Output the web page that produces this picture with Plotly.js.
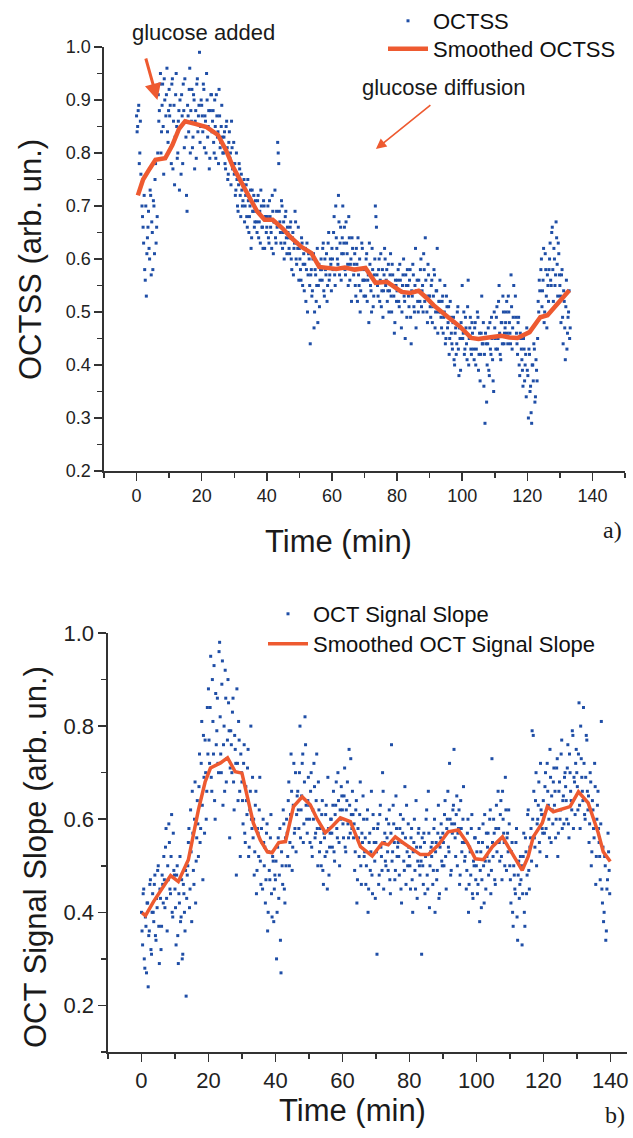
<!DOCTYPE html>
<html>
<head>
<meta charset="utf-8">
<script src="https://cdn.plot.ly/plotly-3.0.1.min.js"></script>
<style>html,body{margin:0;padding:0;background:#fff;}#chart{width:633px;height:1138px;}</style>
</head>
<body>
<div id="chart"></div>
<script>
// ---------- Panel a: OCTSS, two interleaved sample sets (every 1/3 min, offset 1/6 min) ----------
const octssValues = [
0.87,0.85,0.89,0.80,0.76,0.70,0.66,0.72,0.56,0.53,
0.64,0.69,0.60,0.72,0.67,0.58,0.70,0.75,0.63,0.68,
0.91,0.88,0.95,0.84,0.93,0.76,0.90,0.87,0.96,0.82,
0.92,0.89,0.78,0.94,0.86,0.74,0.91,0.85,0.80,0.88,
0.90,0.76,0.87,0.93,0.81,0.86,0.72,0.89,0.84,0.96,
0.88,0.92,0.83,0.90,0.86,0.79,0.94,0.87,0.99,0.85,
0.89,0.84,0.92,0.87,0.80,0.90,0.85,0.77,0.88,0.91,
0.86,0.82,0.90,0.79,0.87,0.84,0.92,0.81,0.85,0.83,
0.80,0.84,0.77,0.86,0.75,0.82,0.79,0.74,0.81,0.78,
0.76,0.72,0.80,0.70,0.74,0.77,0.68,0.73,0.71,0.75,
0.70,0.74,0.66,0.71,0.68,0.73,0.64,0.69,0.72,0.67,
0.69,0.65,0.72,0.67,0.63,0.70,0.66,0.71,0.62,0.68,
0.66,0.70,0.63,0.68,0.65,0.72,0.61,0.67,0.64,0.69,
0.82,0.78,0.67,0.63,0.70,0.65,0.60,0.68,0.64,0.66,
0.64,0.61,0.67,0.58,0.65,0.62,0.69,0.60,0.63,0.66,
0.62,0.58,0.64,0.55,0.61,0.59,0.52,0.63,0.57,0.60,
0.44,0.58,0.54,0.61,0.50,0.57,0.55,0.48,0.59,0.56,
0.60,0.56,0.63,0.53,0.58,0.61,0.55,0.65,0.57,0.59,
0.62,0.58,0.68,0.55,0.64,0.60,0.72,0.57,0.66,0.61,
0.70,0.63,0.58,0.67,0.61,0.55,0.64,0.59,0.52,0.62,
0.57,0.61,0.53,0.59,0.64,0.55,0.50,0.58,0.62,0.56,
0.58,0.53,0.61,0.56,0.48,0.59,0.54,0.62,0.51,0.57,
0.70,0.66,0.55,0.58,0.52,0.61,0.54,0.49,0.57,0.60,
0.56,0.52,0.59,0.54,0.61,0.50,0.57,0.53,0.48,0.55,
0.54,0.58,0.51,0.56,0.47,0.55,0.60,0.52,0.57,0.49,
0.55,0.51,0.58,0.44,0.53,0.57,0.50,0.62,0.54,0.52,
0.56,0.52,0.60,0.54,0.50,0.58,0.64,0.53,0.48,0.57,
0.53,0.49,0.56,0.51,0.58,0.47,0.54,0.62,0.50,0.52,
0.50,0.47,0.53,0.49,0.55,0.45,0.51,0.48,0.42,0.52,
0.46,0.43,0.49,0.40,0.47,0.44,0.51,0.38,0.45,0.48,
0.55,0.46,0.42,0.49,0.44,0.51,0.40,0.47,0.43,0.48,
0.45,0.41,0.48,0.43,0.50,0.39,0.46,0.42,0.53,0.44,
0.36,0.29,0.44,0.40,0.47,0.38,0.43,0.49,0.41,0.35,
0.47,0.43,0.51,0.45,0.55,0.42,0.48,0.44,0.50,0.46,
0.48,0.52,0.44,0.50,0.46,0.57,0.43,0.49,0.45,0.53,
0.46,0.42,0.49,0.38,0.45,0.41,0.36,0.43,0.40,0.34,
0.39,0.30,0.42,0.36,0.29,0.40,0.44,0.33,0.41,0.37,
0.52,0.56,0.49,0.60,0.54,0.62,0.50,0.58,0.47,0.55,
0.58,0.63,0.55,0.66,0.52,0.60,0.57,0.64,0.53,0.61,
0.55,0.48,0.58,0.44,0.52,0.41,0.56,0.46,0.50,0.45
];
const octssValuesOffset = [
0.84,0.88,0.78,0.86,0.74,0.68,0.63,0.58,0.70,0.61,
0.66,0.62,0.73,0.57,0.65,0.71,0.61,0.78,0.66,0.80,
0.86,0.93,0.80,0.89,0.85,0.94,0.79,0.91,0.84,0.88,
0.87,0.81,0.93,0.77,0.89,0.83,0.95,0.79,0.86,0.73,
0.85,0.91,0.78,0.88,0.94,0.83,0.69,0.87,0.92,0.80,
0.86,0.81,0.91,0.77,0.88,0.93,0.84,0.89,0.82,0.90,
0.87,0.93,0.81,0.86,0.95,0.83,0.88,0.79,0.91,0.84,
0.88,0.80,0.85,0.91,0.83,0.78,0.87,0.82,0.89,0.80,
0.83,0.78,0.85,0.81,0.76,0.84,0.80,0.86,0.77,0.82,
0.78,0.73,0.75,0.69,0.78,0.72,0.76,0.70,0.74,0.67,
0.72,0.68,0.75,0.65,0.70,0.62,0.73,0.69,0.66,0.71,
0.67,0.71,0.64,0.69,0.73,0.66,0.62,0.70,0.68,0.65,
0.68,0.64,0.71,0.66,0.62,0.69,0.67,0.73,0.63,0.66,
0.80,0.69,0.65,0.71,0.62,0.67,0.63,0.69,0.61,0.65,
0.62,0.66,0.60,0.64,0.57,0.63,0.67,0.59,0.62,0.56,
0.60,0.56,0.63,0.59,0.54,0.62,0.58,0.50,0.61,0.55,
0.57,0.53,0.60,0.47,0.58,0.52,0.62,0.55,0.51,0.58,
0.58,0.62,0.54,0.60,0.57,0.52,0.63,0.56,0.60,0.54,
0.60,0.65,0.57,0.70,0.62,0.59,0.67,0.63,0.56,0.64,
0.61,0.66,0.57,0.63,0.59,0.68,0.56,0.60,0.64,0.58,
0.59,0.55,0.62,0.52,0.57,0.60,0.54,0.63,0.56,0.53,
0.56,0.60,0.52,0.57,0.63,0.55,0.50,0.58,0.53,0.60,
0.68,0.57,0.53,0.60,0.56,0.51,0.58,0.54,0.62,0.55,
0.58,0.54,0.50,0.57,0.53,0.59,0.55,0.46,0.56,0.52,
0.56,0.52,0.59,0.54,0.50,0.57,0.53,0.45,0.55,0.58,
0.53,0.56,0.49,0.54,0.59,0.51,0.55,0.47,0.56,0.50,
0.54,0.58,0.51,0.55,0.61,0.52,0.56,0.50,0.59,0.53,
0.51,0.55,0.48,0.53,0.57,0.50,0.54,0.46,0.52,0.56,
0.49,0.52,0.46,0.50,0.44,0.53,0.47,0.51,0.45,0.49,
0.44,0.48,0.41,0.46,0.42,0.50,0.43,0.47,0.39,0.45,
0.45,0.50,0.43,0.47,0.41,0.56,0.45,0.49,0.42,0.46,
0.43,0.47,0.40,0.45,0.49,0.42,0.37,0.46,0.44,0.48,
0.42,0.46,0.33,0.44,0.39,0.48,0.42,0.45,0.37,0.50,
0.45,0.49,0.43,0.52,0.46,0.41,0.48,0.53,0.44,0.47,
0.50,0.46,0.53,0.48,0.44,0.51,0.47,0.55,0.45,0.49,
0.44,0.48,0.40,0.46,0.43,0.39,0.45,0.37,0.42,0.47,
0.38,0.43,0.35,0.31,0.40,0.37,0.43,0.34,0.39,0.45,
0.50,0.54,0.58,0.51,0.56,0.48,0.61,0.53,0.57,0.52,
0.60,0.56,0.65,0.58,0.62,0.55,0.67,0.59,0.63,0.57,
0.53,0.57,0.49,0.54,0.47,0.51,0.43,0.49,0.54,0.47
];
const smoothATime = [0.4,2,4,5.8,8.8,11,13,14.9,18,21.5,25,27.5,29.6,33.8,37,39.3,41.8,44.8,47.5,50.6,53.7,56.1,58,61.3,64,67,70.3,73.4,76.9,79,81.4,84.1,86.6,89,91.2,95.7,99.4,102.8,105,107,109.5,112,114.5,117,120.7,124,126.2,129.8,132.9];
const smoothAValues = [0.72,0.75,0.77,0.787,0.79,0.815,0.845,0.86,0.855,0.849,0.834,0.805,0.774,0.724,0.69,0.674,0.674,0.658,0.64,0.623,0.611,0.585,0.583,0.581,0.584,0.58,0.583,0.555,0.557,0.548,0.538,0.536,0.54,0.527,0.513,0.49,0.472,0.451,0.449,0.451,0.453,0.455,0.452,0.451,0.462,0.49,0.494,0.519,0.541];

// ---------- Panel b: OCT signal slope, two interleaved sample sets ----------
const slopeValues = [
0.40,0.33,0.45,0.28,0.37,0.42,0.24,0.36,0.47,0.31,
0.44,0.38,0.48,0.34,0.41,0.50,0.29,0.43,0.37,0.46,
0.52,0.41,0.58,0.36,0.47,0.55,0.44,0.61,0.39,0.49,
0.45,0.33,0.50,0.29,0.42,0.38,0.47,0.31,0.44,0.36,
0.22,0.48,0.55,0.41,0.62,0.38,0.57,0.46,0.68,0.51,
0.64,0.52,0.74,0.58,0.81,0.47,0.69,0.77,0.60,0.84,
0.88,0.72,0.95,0.66,0.81,0.93,0.60,0.76,0.86,0.70,
0.98,0.74,0.89,0.63,0.80,0.92,0.68,0.77,0.85,0.56,
0.79,0.70,0.86,0.62,0.75,0.48,0.72,0.81,0.66,0.74,
0.68,0.59,0.76,0.55,0.64,0.71,0.52,0.62,0.80,0.58,
0.56,0.48,0.63,0.44,0.58,0.52,0.69,0.46,0.55,0.60,
0.50,0.42,0.57,0.36,0.53,0.47,0.61,0.39,0.51,0.45,
0.47,0.30,0.54,0.43,0.58,0.27,0.50,0.62,0.45,0.56,
0.60,0.52,0.68,0.55,0.74,0.49,0.63,0.57,0.70,0.61,
0.66,0.58,0.80,0.62,0.72,0.55,0.68,0.76,0.60,0.64,
0.63,0.55,0.70,0.52,0.60,0.67,0.57,0.74,0.50,0.62,
0.58,0.50,0.64,0.46,0.56,0.61,0.53,0.69,0.48,0.57,
0.60,0.54,0.66,0.51,0.63,0.58,0.70,0.55,0.62,0.67,
0.62,0.56,0.71,0.53,0.64,0.59,0.75,0.57,0.61,0.66,
0.56,0.49,0.62,0.42,0.58,0.52,0.68,0.46,0.55,0.60,
0.53,0.46,0.60,0.40,0.55,0.49,0.66,0.44,0.58,0.51,
0.55,0.31,0.59,0.48,0.63,0.52,0.70,0.45,0.57,0.50,
0.56,0.49,0.62,0.44,0.76,0.53,0.59,0.47,0.65,0.52,
0.55,0.48,0.61,0.42,0.57,0.51,0.67,0.46,0.53,0.59,
0.52,0.45,0.58,0.40,0.55,0.49,0.64,0.43,0.57,0.50,
0.54,0.31,0.50,0.57,0.44,0.60,0.48,0.66,0.41,0.53,
0.52,0.46,0.58,0.40,0.55,0.49,0.63,0.44,0.56,0.51,
0.57,0.50,0.64,0.45,0.60,0.54,0.72,0.48,0.59,0.62,
0.75,0.56,0.61,0.50,0.58,0.46,0.64,0.53,0.60,0.55,
0.52,0.45,0.57,0.40,0.54,0.48,0.61,0.43,0.50,0.56,
0.50,0.44,0.55,0.38,0.53,0.47,0.59,0.42,0.51,0.57,
0.54,0.48,0.60,0.44,0.73,0.52,0.57,0.46,0.63,0.55,
0.58,0.51,0.64,0.47,0.60,0.55,0.69,0.49,0.57,0.62,
0.50,0.42,0.55,0.37,0.48,0.44,0.58,0.34,0.51,0.46,
0.47,0.33,0.52,0.40,0.56,0.44,0.61,0.49,0.54,0.58,
0.79,0.78,0.56,0.64,0.50,0.60,0.68,0.53,0.62,0.58,
0.64,0.57,0.70,0.52,0.66,0.60,0.75,0.55,0.62,0.68,
0.63,0.56,0.71,0.52,0.66,0.60,0.74,0.58,0.65,0.69,
0.67,0.60,0.76,0.56,0.70,0.64,0.79,0.58,0.68,0.72,
0.70,0.62,0.85,0.58,0.73,0.66,0.84,0.61,0.69,0.77,
0.62,0.55,0.70,0.50,0.64,0.58,0.72,0.46,0.60,0.66,
0.55,0.47,0.81,0.42,0.38,0.52,0.34,0.45,0.57,0.49
];
const slopeValuesOffset = [
0.36,0.44,0.30,0.39,0.27,0.42,0.35,0.46,0.32,0.40,
0.40,0.46,0.35,0.43,0.49,0.37,0.45,0.32,0.48,0.42,
0.47,0.54,0.43,0.50,0.59,0.45,0.52,0.40,0.57,0.48,
0.41,0.48,0.35,0.44,0.52,0.39,0.30,0.46,0.40,0.49,
0.43,0.50,0.58,0.45,0.53,0.66,0.49,0.60,0.42,0.56,
0.59,0.67,0.55,0.72,0.63,0.78,0.57,0.70,0.66,0.74,
0.77,0.84,0.69,0.90,0.74,0.64,0.87,0.79,0.72,0.96,
0.82,0.70,0.94,0.76,0.66,0.86,0.73,0.90,0.79,0.71,
0.76,0.83,0.68,0.78,0.72,0.88,0.64,0.77,0.52,0.70,
0.64,0.72,0.57,0.67,0.61,0.75,0.54,0.66,0.60,0.69,
0.60,0.53,0.66,0.49,0.57,0.62,0.51,0.58,0.45,0.55,
0.54,0.47,0.59,0.40,0.49,0.56,0.44,0.52,0.38,0.48,
0.51,0.40,0.56,0.48,0.34,0.53,0.46,0.59,0.42,0.50,
0.57,0.64,0.50,0.61,0.66,0.54,0.72,0.58,0.53,0.65,
0.62,0.70,0.56,0.65,0.74,0.59,0.82,0.63,0.57,0.69,
0.60,0.66,0.54,0.62,0.72,0.56,0.64,0.58,0.68,0.53,
0.55,0.61,0.49,0.57,0.52,0.63,0.45,0.58,0.54,0.60,
0.57,0.63,0.53,0.61,0.68,0.56,0.64,0.50,0.60,0.65,
0.59,0.65,0.54,0.62,0.68,0.56,0.63,0.73,0.58,0.61,
0.59,0.53,0.64,0.47,0.56,0.61,0.50,0.57,0.65,0.52,
0.56,0.50,0.62,0.45,0.57,0.53,0.48,0.61,0.55,0.43,
0.53,0.58,0.46,0.61,0.54,0.49,0.66,0.55,0.51,0.60,
0.53,0.59,0.47,0.57,0.51,0.63,0.55,0.49,0.58,0.54,
0.52,0.58,0.45,0.55,0.60,0.49,0.56,0.63,0.50,0.54,
0.50,0.56,0.47,0.53,0.60,0.45,0.54,0.51,0.58,0.48,
0.51,0.56,0.46,0.55,0.52,0.62,0.45,0.57,0.50,0.54,
0.55,0.49,0.60,0.53,0.47,0.57,0.43,0.54,0.59,0.50,
0.55,0.61,0.52,0.58,0.66,0.53,0.60,0.49,0.57,0.63,
0.59,0.52,0.65,0.57,0.62,0.48,0.58,0.55,0.67,0.51,
0.55,0.49,0.60,0.46,0.53,0.58,0.44,0.51,0.56,0.47,
0.53,0.46,0.58,0.49,0.41,0.55,0.50,0.61,0.45,0.52,
0.57,0.51,0.62,0.49,0.55,0.60,0.47,0.58,0.53,0.66,
0.55,0.61,0.52,0.66,0.57,0.50,0.62,0.56,0.53,0.59,
0.47,0.53,0.40,0.50,0.45,0.55,0.39,0.48,0.43,0.52,
0.50,0.44,0.57,0.37,0.53,0.48,0.62,0.45,0.56,0.51,
0.60,0.66,0.54,0.70,0.59,0.63,0.55,0.72,0.61,0.57,
0.61,0.67,0.58,0.72,0.63,0.56,0.69,0.65,0.59,0.71,
0.66,0.60,0.73,0.57,0.68,0.62,0.77,0.64,0.59,0.70,
0.64,0.71,0.59,0.74,0.66,0.62,0.78,0.69,0.61,0.75,
0.67,0.74,0.63,0.80,0.69,0.64,0.72,0.60,0.78,0.66,
0.65,0.59,0.68,0.53,0.62,0.56,0.67,0.52,0.63,0.58,
0.52,0.59,0.45,0.54,0.40,0.50,0.36,0.47,0.53,0.44
];
const smoothBTime = [0.2,1.2,3.6,6,8.7,11,14,17,19,20.6,23.6,25.7,28,30,31.8,33.4,35.5,37.6,39,41,43,45.4,48,50.4,52.5,54.9,57,59.4,62.4,65.4,68.9,71.9,73.7,75.8,78,80.3,83.3,85.7,88.7,91.6,94.6,97.3,99.7,102.1,104.8,107.8,110.7,113.7,115.5,117,119.7,121.2,123,125,128,130.5,133.4,136.4,137.9,140];
const smoothBValues = [0.399,0.393,0.423,0.45,0.479,0.466,0.513,0.62,0.68,0.71,0.721,0.732,0.702,0.699,0.645,0.592,0.555,0.53,0.528,0.55,0.552,0.627,0.648,0.631,0.6,0.571,0.585,0.603,0.595,0.541,0.521,0.549,0.545,0.562,0.55,0.539,0.524,0.524,0.545,0.573,0.577,0.549,0.515,0.513,0.541,0.562,0.528,0.49,0.52,0.562,0.592,0.627,0.616,0.62,0.627,0.659,0.635,0.571,0.53,0.509];

const xTickVals = [0,20,40,60,80,100,120,140];

// ---------- styling ----------
const W = 633, H = 1138;
const SANS = 'Arial, "Liberation Sans", Helvetica, sans-serif';
const SERIF = '"Times New Roman", "Liberation Serif", serif';
const DOT = '#1f4ea6';
const RED = '#ee5a30';
const AX = '#333333';
const px = x => x / W;
const py = y => 1 - y / H;
const dotMarker = {color:DOT, size:3, symbol:'square'};

const traces = [
  {type:'scatter', mode:'markers', name:'OCTSS', y: octssValues, x0: 0, dx: 1/3,
   marker:dotMarker, xaxis:'x', yaxis:'y', legend:'legend'},
  {type:'scatter', mode:'markers', name:'OCTSS', y: octssValuesOffset, x0: 1/6, dx: 1/3,
   marker:dotMarker, xaxis:'x', yaxis:'y', showlegend:false},
  {type:'scatter', mode:'lines', name:'Smoothed OCTSS', x: smoothATime, y: smoothAValues,
   line:{color:RED, width:4.5}, xaxis:'x', yaxis:'y', legend:'legend2'},
  {type:'scatter', mode:'markers', name:'OCT Signal Slope', y: slopeValues, x0: 0, dx: 1/3,
   marker:dotMarker, xaxis:'x2', yaxis:'y2', legend:'legend3'},
  {type:'scatter', mode:'markers', name:'OCT Signal Slope', y: slopeValuesOffset, x0: 1/6, dx: 1/3,
   marker:dotMarker, xaxis:'x2', yaxis:'y2', showlegend:false},
  {type:'scatter', mode:'lines', name:'Smoothed OCT Signal Slope', x: smoothBTime, y: smoothBValues,
   line:{color:RED, width:3.5}, xaxis:'x2', yaxis:'y2', legend:'legend4'}
];

function xax(domain, anchor, range, fs){
  return {domain, anchor, range, showline:true, linecolor:AX, linewidth:1.6, mirror:false,
    ticks:'outside', ticklen:8, tickwidth:1.5, tickcolor:AX, tickvals:xTickVals,
    minor:{ticks:'outside', dtick:10, tick0:0, ticklen:5, tickwidth:1.5, tickcolor:AX, showgrid:false},
    showgrid:false, zeroline:false, tickfont:{family:SANS, size:fs, color:'#222'}, fixedrange:true};
}
function yax(domain, anchor, range, dtick, minor, fs){
  return {domain, anchor, range, showline:true, linecolor:AX, linewidth:1.6,
    ticks:'outside', ticklen:8, tickwidth:1.5, tickcolor:AX, tick0:0, dtick, tickformat:'.1f',
    minor:{ticks:'outside', dtick:minor, tick0:0, ticklen:5, tickwidth:1.5, tickcolor:AX, showgrid:false},
    showgrid:false, zeroline:false, tickfont:{family:SANS, size:fs, color:'#222'}, fixedrange:true};
}
function leg(x, yTop){
  return {x:px(x), y:py(yTop), xanchor:'left', yanchor:'top', bgcolor:'rgba(0,0,0,0)', borderwidth:0,
    font:{family:SANS, size:22, color:'#111'}, itemwidth:40};
}
function label(x, y, text, size, extra){
  return Object.assign({xref:'paper', yref:'paper', x:px(x), y:py(y), text, showarrow:false,
    xanchor:'center', yanchor:'middle', font:{family:SANS, size, color:'#1a1a1a'}}, extra || {});
}

const layout = {
  width:W, height:H, margin:{l:0,r:0,t:0,b:0}, paper_bgcolor:'#fff', plot_bgcolor:'#fff',
  showlegend:true,
  xaxis: xax([px(104), px(625)], 'y', [-10,150], 18),
  yaxis: yax([py(471), py(47)], 'x', [0.2,1.0], 0.1, 0.05, 18),
  xaxis2: xax([px(108), px(627)], 'y2', [-10,145], 22),
  yaxis2: yax([py(1052), py(633)], 'x2', [0.1,1.0], 0.2, 0.1, 22),
  legend: leg(383, 0),
  legend2: leg(383, 28),
  legend3: leg(263, 593),
  legend4: leg(263, 623),
  annotations:[
    label(30, 260, 'OCTSS (arb. un.)', 31, {textangle:-90}),
    label(338, 541, 'Time (min)', 31),
    label(612, 530, 'a)', 24, {font:{family:SERIF, size:24, color:'#1a1a1a'}}),
    label(35, 857, 'OCT Signal Slope (arb. un.)', 31, {textangle:-90}),
    label(352, 1110, 'Time (min)', 31),
    label(615, 1115, 'b)', 24, {font:{family:SERIF, size:24, color:'#1a1a1a'}}),
    label(203, 32, 'glucose added', 22),
    label(444, 87, 'glucose diffusion', 22),
    {xref:'x', yref:'y', x:6.4, y:0.9, ax:-12, ay:-43, text:'', showarrow:true,
     arrowcolor:RED, arrowwidth:3, arrowhead:2, arrowsize:1.1},
    {xref:'x', yref:'y', x:73.5, y:0.8075, ax:56, ay:-45, text:'', showarrow:true,
     arrowcolor:RED, arrowwidth:1.6, arrowhead:2, arrowsize:1.3}
  ]
};

Plotly.newPlot('chart', traces, layout, {staticPlot:true, displayModeBar:false});
</script>
</body>
</html>
